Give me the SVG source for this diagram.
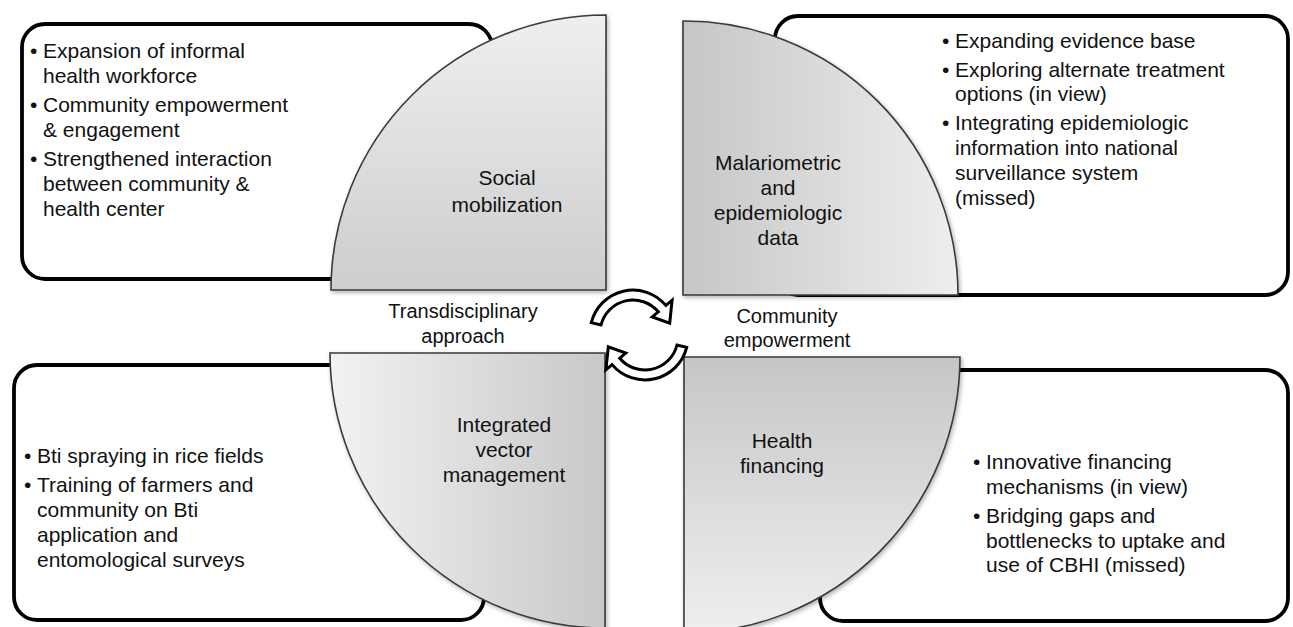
<svg xmlns="http://www.w3.org/2000/svg" width="1293" height="627" viewBox="0 0 1293 627">
<style>
.box{fill:#fff;stroke:#000;stroke-width:3.8}
.q{stroke:#3a3a3a;stroke-width:1.6}
.t{font-family:"Liberation Sans",Arial,sans-serif;font-size:21px;fill:#111}
.c{font-family:"Liberation Sans",Arial,sans-serif;font-size:21px;fill:#111;text-anchor:middle}
.m{font-family:"Liberation Sans",Arial,sans-serif;font-size:20px;fill:#111;text-anchor:middle}
.arr{fill:#fff;stroke:#000;stroke-width:3;stroke-linejoin:miter}
</style>
<defs>
<linearGradient id="gTL" x1="0" y1="0" x2="0" y2="1"><stop offset="0" stop-color="#efefef"/><stop offset="1" stop-color="#cdcdcd"/></linearGradient>
<linearGradient id="gTR" x1="0" y1="0" x2="1" y2="0"><stop offset="0" stop-color="#c6c6c6"/><stop offset="1" stop-color="#eeeeee"/></linearGradient>
<linearGradient id="gBL" x1="0" y1="0" x2="1" y2="0"><stop offset="0" stop-color="#f2f2f2"/><stop offset="1" stop-color="#c8c8c8"/></linearGradient>
<linearGradient id="gBR" x1="0" y1="0" x2="0" y2="1"><stop offset="0" stop-color="#c6c6c6"/><stop offset="1" stop-color="#efefef"/></linearGradient>
<filter id="sh" x="-10%" y="-10%" width="120%" height="120%"><feDropShadow dx="1.5" dy="2" stdDeviation="2" flood-color="#000" flood-opacity="0.3"/></filter>
</defs>
<rect width="1293" height="627" fill="#fff"/>

<g id="box-social">
<rect class="box" x="22" y="24" width="470" height="255" rx="23"/>
</g>
<g id="box-data">
<rect class="box" x="775" y="16" width="513" height="279" rx="23"/>
</g>
<g id="box-ivm">
<rect class="box" x="14" y="365" width="470" height="255" rx="23"/>
</g>
<g id="box-financing">
<rect class="box" x="820" y="370" width="468" height="251" rx="23"/>
</g>

<g id="q-social">
<path class="q" fill="url(#gTL)" filter="url(#sh)" d="M606 290 L331 290 A275 275 0 0 1 606 15 Z"/>
<text class="c" x="507" y="185">Social</text>
<text class="c" x="507" y="212">mobilization</text>
</g>
<g id="q-data">
<path class="q" fill="url(#gTR)" filter="url(#sh)" d="M683 295 L683 21 A274 274 0 0 1 958 295 Z"/>
<text class="c" x="778" y="170">Malariometric</text>
<text class="c" x="778" y="195">and</text>
<text class="c" x="778" y="220">epidemiologic</text>
<text class="c" x="778" y="245">data</text>
</g>
<g id="q-ivm">
<path class="q" fill="url(#gBL)" filter="url(#sh)" d="M605 353 L605 628 A275 275 0 0 1 330 353 Z"/>
<text class="c" x="504" y="432">Integrated</text>
<text class="c" x="504" y="457">vector</text>
<text class="c" x="504" y="482">management</text>
</g>
<g id="q-financing">
<path class="q" fill="url(#gBR)" filter="url(#sh)" d="M684 357 L960 357 A276 276 0 0 1 684 633 Z"/>
<text class="c" x="782" y="448">Health</text>
<text class="c" x="782" y="473">financing</text>
</g>

<g id="text-social">
<text class="t" x="30" y="58">•</text><text class="t" x="43" y="58">Expansion of informal</text>
<text class="t" x="43" y="83">health workforce</text>
<text class="t" x="30" y="112">•</text><text class="t" x="43" y="112">Community empowerment</text>
<text class="t" x="43" y="137">&amp; engagement</text>
<text class="t" x="30" y="166">•</text><text class="t" x="43" y="166">Strengthened interaction</text>
<text class="t" x="43" y="191">between community &amp;</text>
<text class="t" x="43" y="216">health center</text>
</g>
<g id="text-data">
<text class="t" x="942" y="48">•</text><text class="t" x="955" y="48">Expanding evidence base</text>
<text class="t" x="942" y="77">•</text><text class="t" x="955" y="77">Exploring alternate treatment</text>
<text class="t" x="955" y="101">options (in view)</text>
<text class="t" x="942" y="130">•</text><text class="t" x="955" y="130">Integrating epidemiologic</text>
<text class="t" x="955" y="155">information into national</text>
<text class="t" x="955" y="180">surveillance system</text>
<text class="t" x="955" y="205">(missed)</text>
</g>
<g id="text-ivm">
<text class="t" x="24" y="463">•</text><text class="t" x="37" y="463">Bti spraying in rice fields</text>
<text class="t" x="24" y="492">•</text><text class="t" x="37" y="492">Training of farmers and</text>
<text class="t" x="37" y="517">community on Bti</text>
<text class="t" x="37" y="542">application and</text>
<text class="t" x="37" y="567">entomological surveys</text>
</g>
<g id="text-financing">
<text class="t" x="973" y="469">•</text><text class="t" x="986" y="469">Innovative financing</text>
<text class="t" x="986" y="494">mechanisms (in view)</text>
<text class="t" x="973" y="523">•</text><text class="t" x="986" y="523">Bridging gaps and</text>
<text class="t" x="986" y="548">bottlenecks to uptake and</text>
<text class="t" x="986" y="572">use of CBHI (missed)</text>
</g>

<g id="label-transdisciplinary">
<text class="m" x="463" y="318">Transdisciplinary</text>
<text class="m" x="463" y="343">approach</text>
</g>
<g id="label-community">
<text class="m" x="787" y="323">Community</text>
<text class="m" x="787" y="347">empowerment</text>
</g>

<g id="connectors">
<path class="arr" d="M591.3 322.6 A43 43 0 0 1 665.9 305.4 L672.1 300.2 L669.7 323.2 L652.2 316.9 L658.3 311.8 A33 33 0 0 0 601 325 Z"/>
<path class="arr" d="M686.7 347.4 A43 43 0 0 1 612.1 364.6 L605.9 369.8 L608.3 346.8 L625.8 353.1 L619.7 358.2 A33 33 0 0 0 677 345 Z"/>
</g>
</svg>
